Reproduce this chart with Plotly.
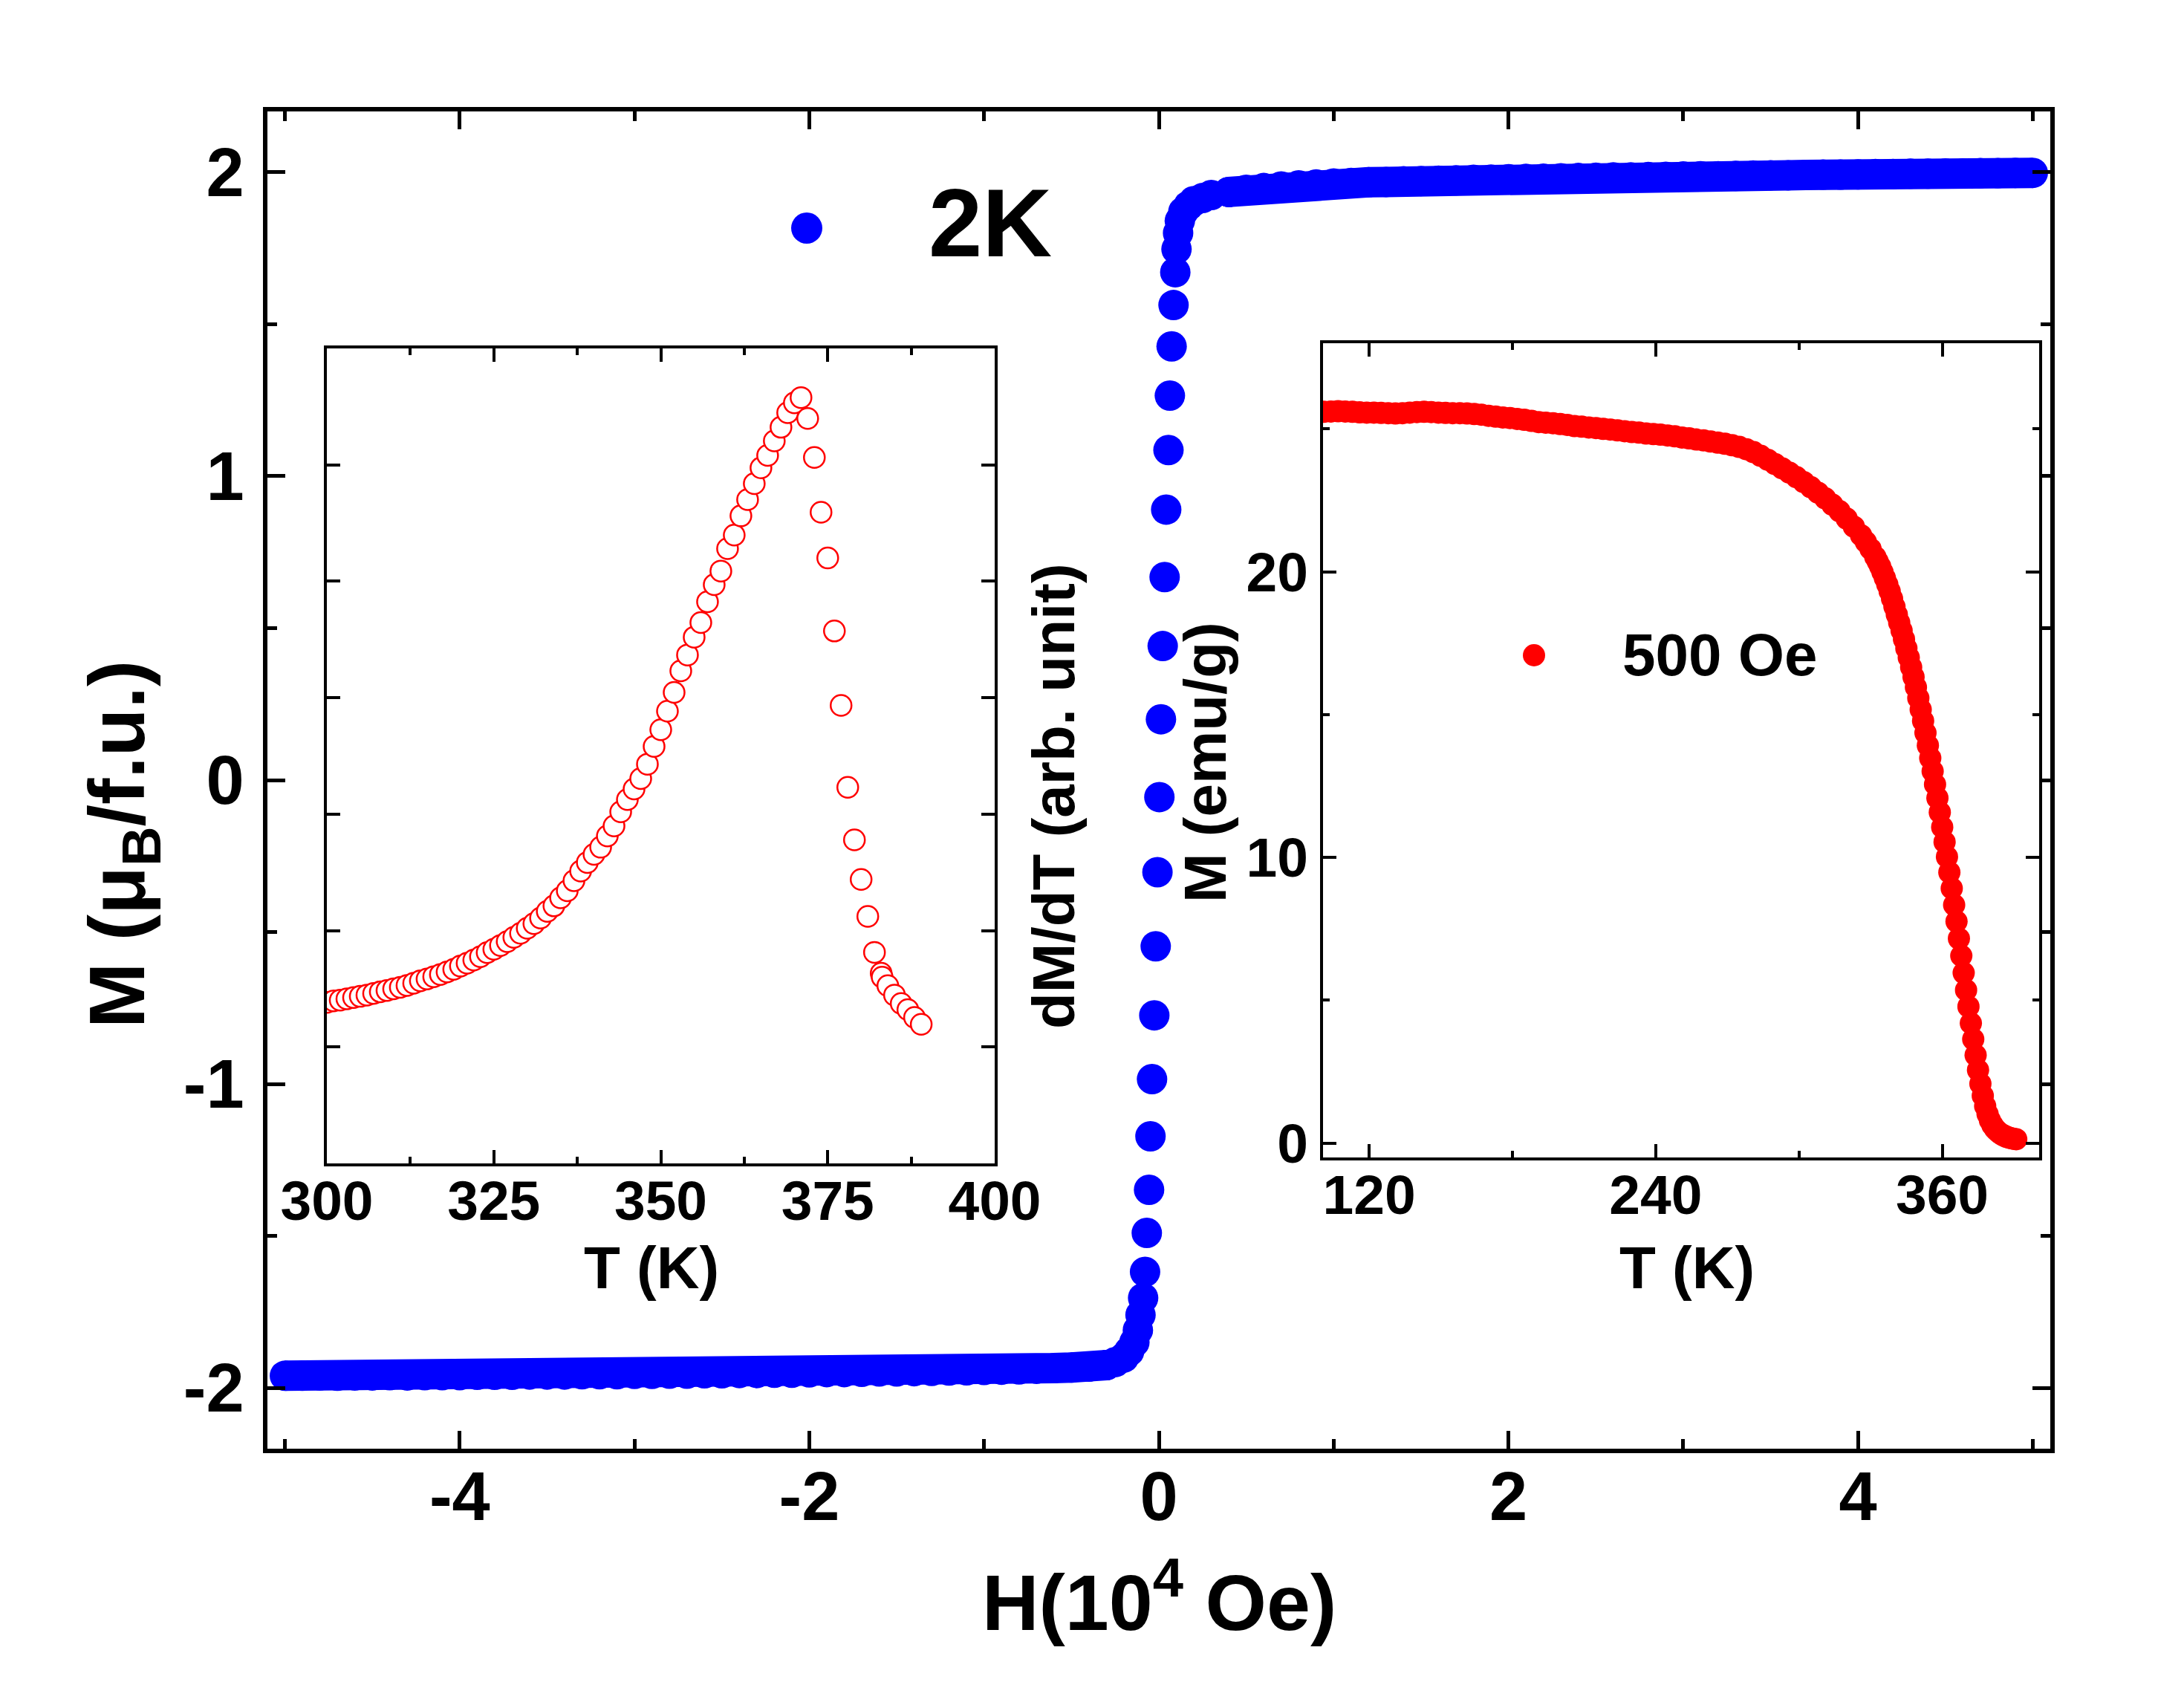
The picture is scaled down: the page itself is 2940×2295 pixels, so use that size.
import plotly.graph_objects as go

# ---------------- data ----------------
# main panel: M-H loop at 2 K (H in 10^4 Oe, M in muB/f.u.)
H_main = [-5.0, -4.9, -4.8, -4.7, -4.6, -4.5, -4.4, -4.3, -4.2, -4.1,
          -4.0, -3.9, -3.8, -3.7, -3.6, -3.5, -3.4, -3.3, -3.2, -3.1,
          -3.0, -2.9, -2.8, -2.7, -2.6, -2.5, -2.4, -2.3, -2.2, -2.1,
          -2.0, -1.9, -1.8, -1.7, -1.6, -1.5, -1.4, -1.3, -1.2, -1.1,
          -1.0, -0.9, -0.8, -0.7, -0.6, -0.5, -0.4, -0.3, -0.25, -0.2,
          -0.17, -0.14, -0.12, -0.105, -0.090, -0.079, -0.069, -0.056, -0.048, -0.039,
          -0.026, -0.018, -0.008, 0.003, 0.012, 0.022, 0.033, 0.042, 0.055, 0.063,
          0.073, 0.084, 0.094, 0.101, 0.11, 0.12, 0.14, 0.17, 0.2, 0.25,
          0.3, 0.4, 0.5, 0.6, 0.7, 0.8, 0.9, 1.0, 1.1, 1.2,
          1.3, 1.4, 1.5, 1.6, 1.7, 1.8, 1.9, 2.0, 2.1, 2.2,
          2.3, 2.4, 2.5, 2.6, 2.7, 2.8, 2.9, 3.0, 3.1, 3.2,
          3.3, 3.4, 3.5, 3.6, 3.7, 3.8, 3.9, 4.0, 4.1, 4.2,
          4.3, 4.4, 4.5, 4.6, 4.7, 4.8, 4.9, 5.0]
M_main = [-1.960, -1.960, -1.959, -1.960, -1.959, -1.959, -1.958, -1.959, -1.958, -1.958,
          -1.958, -1.957, -1.957, -1.957, -1.956, -1.956, -1.956, -1.955, -1.955, -1.955,
          -1.954, -1.954, -1.953, -1.953, -1.952, -1.952, -1.951, -1.951, -1.950, -1.950,
          -1.949, -1.948, -1.948, -1.947, -1.946, -1.946, -1.945, -1.944, -1.943, -1.942,
          -1.941, -1.940, -1.939, -1.937, -1.935, -1.933, -1.930, -1.925, -1.915, -1.900,
          -1.880, -1.850, -1.810, -1.760, -1.704, -1.618, -1.490, -1.348, -1.172, -0.984,
          -0.774, -0.547, -0.303, -0.056, 0.200, 0.441, 0.668, 0.890, 1.086, 1.265,
          1.427, 1.563, 1.671, 1.747, 1.800, 1.840, 1.870, 1.890, 1.905, 1.915,
          1.925, 1.935, 1.942, 1.948, 1.953, 1.957, 1.960, 1.963, 1.965, 1.967,
          1.968, 1.970, 1.971, 1.972, 1.973, 1.975, 1.976, 1.977, 1.978, 1.979,
          1.980, 1.981, 1.982, 1.983, 1.983, 1.984, 1.985, 1.986, 1.987, 1.987,
          1.988, 1.989, 1.990, 1.990, 1.991, 1.992, 1.992, 1.993, 1.994, 1.994,
          1.995, 1.995, 1.996, 1.996, 1.997, 1.997, 1.998, 1.998]

# inset 1: dM/dT vs T (arb. unit)
T_deriv = [300, 301, 302, 303, 304, 305, 306, 307, 308, 309,
           310, 311, 312, 313, 314, 315, 316, 317, 318, 319,
           320, 321, 322, 323, 324, 325, 326, 327, 328, 329,
           330, 331, 332, 333, 334, 335, 336, 337, 338, 339,
           340, 341, 342, 343, 344, 345, 346, 347, 348, 349,
           350, 351, 352, 353, 354, 355, 356, 357, 358, 359,
           360, 361, 362, 363, 364, 365, 366, 367, 368, 369,
           370, 371, 372, 373, 374, 375, 376, 377, 378, 379,
           380, 381, 382, 383, 383.15, 384, 385, 386, 387, 388, 389]
dMdT = [1.383, 1.396, 1.402, 1.413, 1.424, 1.435, 1.446, 1.460, 1.474, 1.485,
        1.499, 1.513, 1.529, 1.548, 1.568, 1.584, 1.604, 1.623, 1.645, 1.667,
        1.695, 1.720, 1.747, 1.775, 1.811, 1.839, 1.872, 1.905, 1.941, 1.977,
        2.019, 2.060, 2.107, 2.165, 2.212, 2.281, 2.342, 2.428, 2.511, 2.585,
        2.655, 2.716, 2.813, 2.898, 3.020, 3.125, 3.216, 3.305, 3.429, 3.581,
        3.725, 3.885, 4.046, 4.231, 4.367, 4.520, 4.645, 4.824, 4.971, 5.088,
        5.280, 5.397, 5.562, 5.701, 5.839, 5.974, 6.081, 6.206, 6.323, 6.448,
        6.533, 6.578, 6.399, 6.063, 5.593, 5.200, 4.573, 3.934, 3.231, 2.779,
        2.439, 2.122, 1.813, 1.634, 1.600, 1.527, 1.446, 1.374, 1.321, 1.254, 1.195]

# inset 2: M vs T at 500 Oe (emu/g)
T_mt = [101, 104, 107, 110, 113, 116, 119, 122, 125, 128,
        131, 134, 137, 140, 143, 146, 149, 152, 155, 158,
        161, 164, 167, 170, 173, 176, 179, 182, 185, 188,
        191, 194, 197, 200, 203, 206, 209, 212, 215, 218,
        221, 224, 227, 230, 233, 236, 239, 242, 245, 248,
        251, 254, 257, 260, 263, 266, 269, 272, 275, 278,
        281, 284, 287, 290, 293, 296, 299, 302, 305, 308,
        311, 314, 317, 320, 323, 326, 328, 330, 332, 333, 334,
        335, 336, 337, 338, 339, 340, 341, 342, 343, 344,
        345, 346, 347, 348, 349, 350, 351, 352, 353, 354,
        355, 356, 357, 358, 359, 360, 361, 362, 363, 364,
        365, 366, 367, 368, 369, 370, 371, 372, 373, 374,
        375, 376, 377, 378, 379, 380, 381, 382, 383, 384,
        385, 386, 387, 388, 389, 390, 391]
M_mt = [25.60, 25.61, 25.62, 25.61, 25.60, 25.58, 25.57, 25.57, 25.56, 25.55,
        25.54, 25.55, 25.57, 25.59, 25.60, 25.59, 25.57, 25.56, 25.55, 25.55,
        25.54, 25.52, 25.50, 25.46, 25.43, 25.40, 25.38, 25.35, 25.32, 25.28,
        25.24, 25.22, 25.20, 25.17, 25.14, 25.10, 25.08, 25.05, 25.03, 25.00,
        24.98, 24.95, 24.92, 24.89, 24.87, 24.84, 24.82, 24.80, 24.77, 24.74,
        24.70, 24.67, 24.63, 24.60, 24.56, 24.52, 24.48, 24.43, 24.37, 24.29,
        24.19, 24.06, 23.92, 23.77, 23.62, 23.47, 23.31, 23.14, 22.96, 22.77,
        22.57, 22.35, 22.12, 21.86, 21.58, 21.28, 21.05, 20.80, 20.52, 20.36, 20.19,
        19.99, 19.78, 19.56, 19.32, 19.06, 18.78, 18.50, 18.22, 17.94, 17.64,
        17.32, 17.00, 16.66, 16.32, 15.96, 15.58, 15.18, 14.78, 14.36, 13.92,
        13.48, 13.02, 12.56, 12.08, 11.58, 11.06, 10.54, 10.02, 9.48, 8.92,
        8.34, 7.76, 7.16, 6.56, 5.96, 5.36, 4.78, 4.20, 3.64, 3.08,
        2.56, 2.08, 1.66, 1.30, 1.02, 0.80, 0.64, 0.52, 0.43, 0.36,
        0.30, 0.26, 0.22, 0.19, 0.17, 0.15, 0.14]

# tick labels
main_x_ticks = [-4, -2, 0, 2, 4]
main_x_labels = ["-4", "-2", "0", "2", "4"]
main_y_ticks = [-2, -1, 0, 1, 2]
main_y_labels = ["-2", "-1", "0", "1", "2"]
in1_x_ticks = [300, 325, 350, 375, 400]
in1_x_labels = ["300", "325", "350", "375", "400"]
in2_x_ticks = [120, 240, 360]
in2_x_labels = ["120", "240", "360"]
in2_y_ticks = [0, 10, 20]
in2_y_labels = ["0", "10", "20"]

# ---------------- figure ----------------
W, H = 2940, 2295
ML, MR, MT, MB = 360, 180, 150, 345
PW, PH = W - ML - MR, H - MT - MB

def px(xp):
    return (xp - ML) / PW

def py(yp):
    return (H - MB - yp) / PH

FONT = "Liberation Sans, Arial, sans-serif"
BLUE = "#0000ff"
RED = "#ff0000"

fig = go.Figure()

# saturated branches of the loop: dense measured points that merge into a band
n_low = 48    # points with H <= -0.25
n_high = 81   # index of first point with H >= 0.3
fig.add_trace(go.Scatter(x=H_main[:n_low], y=M_main[:n_low], mode="lines+markers",
                         line=dict(width=41, color=BLUE),
                         marker=dict(size=41, color=BLUE, line=dict(width=0)),
                         xaxis="x", yaxis="y", showlegend=False))
fig.add_trace(go.Scatter(x=H_main[n_low - 1:n_high + 1], y=M_main[n_low - 1:n_high + 1],
                         mode="markers",
                         marker=dict(size=41, color=BLUE, line=dict(width=0)),
                         xaxis="x", yaxis="y", showlegend=False))
fig.add_trace(go.Scatter(x=H_main[n_high:], y=M_main[n_high:], mode="lines+markers",
                         line=dict(width=41, color=BLUE),
                         marker=dict(size=41, color=BLUE, line=dict(width=0)),
                         xaxis="x", yaxis="y", showlegend=False))

fig.add_trace(go.Scatter(x=T_deriv, y=dMdT, mode="markers",
                         marker=dict(size=28, color="white", symbol="circle",
                                     line=dict(width=2.5, color=RED)),
                         xaxis="x2", yaxis="y2", showlegend=False))

fig.add_trace(go.Scatter(x=T_mt, y=M_mt, mode="markers",
                         marker=dict(size=30, color=RED, line=dict(width=0)),
                         xaxis="x3", yaxis="y3", showlegend=False))

main_tick = dict(size=92, family=FONT, color="black", weight="bold")
inset_tick = dict(size=75, family=FONT, color="black", weight="bold")

common_main = dict(showline=True, linewidth=6, linecolor="black", mirror="ticks",
                   ticks="inside", ticklen=24, tickwidth=5, tickcolor="black",
                   showgrid=False, zeroline=False, tickfont=main_tick,
                   tickmode="array")

fig.update_layout(
    width=W, height=H, autosize=False,
    margin=dict(l=ML, r=MR, t=MT, b=MB, pad=0),
    paper_bgcolor="white", plot_bgcolor="white",
    font=dict(family=FONT, color="black"),
    xaxis=dict(domain=[0, 1], anchor="y", range=[-5.1, 5.1],
               tickvals=main_x_ticks, ticktext=main_x_labels,
               minor=dict(ticks="inside", ticklen=13, tickwidth=5, tickcolor="black",
                          tickvals=[-5, -3, -1, 1, 3, 5]),
               ticklabelstandoff=-20, **common_main),
    yaxis=dict(domain=[0, 1], anchor="x", range=[-2.2, 2.2],
               tickvals=main_y_ticks, ticktext=main_y_labels,
               minor=dict(ticks="inside", ticklen=13, tickwidth=5, tickcolor="black",
                          tickvals=[-1.5, -0.5, 0.5, 1.5]),
               ticklabelstandoff=7, **common_main),
)

common_in = dict(showline=True, linewidth=4, linecolor="black", mirror="ticks",
                 ticks="inside", ticklen=18, tickwidth=4, tickcolor="black",
                 showgrid=False, zeroline=False, tickfont=inset_tick,
                 tickmode="array")

fig.update_layout(
    xaxis2=dict(domain=[px(440), px(1339)], anchor="y2", range=[300, 400],
                tickvals=in1_x_ticks, ticktext=in1_x_labels,
                minor=dict(ticks="inside", ticklen=9, tickwidth=4, tickcolor="black",
                           tickvals=[312.5, 337.5, 362.5, 387.5]),
                ticklabelstandoff=-18, **common_in),
    yaxis2=dict(domain=[py(1566), py(469)], anchor="x2", range=[0, 7],
                tickvals=[1, 2, 3, 4, 5, 6], showticklabels=False, **common_in),
    xaxis3=dict(domain=[px(1781), px(2745)], anchor="y3", range=[100.7, 400.6],
                tickvals=in2_x_ticks, ticktext=in2_x_labels,
                minor=dict(ticks="inside", ticklen=9, tickwidth=4, tickcolor="black",
                           tickvals=[180, 300]),
                ticklabelstandoff=-18, **common_in),
    yaxis3=dict(domain=[py(1558), py(462)], anchor="x3", range=[-0.5, 28],
                tickvals=in2_y_ticks, ticktext=in2_y_labels,
                minor=dict(ticks="inside", ticklen=9, tickwidth=4, tickcolor="black",
                           tickvals=[5, 15, 25]),
                ticklabelstandoff=1, **common_in),
)

def ann(text, x, y, size, angle=0, xanchor="center", yanchor="middle"):
    fig.add_annotation(text=text, x=x, y=y, xref="paper", yref="paper",
                       showarrow=False, textangle=angle, xanchor=xanchor, yanchor=yanchor,
                       font=dict(size=size, family=FONT, color="black", weight="bold"))

ann("H(10<sup>4</sup> Oe)", px(1560), py(2149), 106)
ann("M (μ<sub>B</sub>/f.u.)", px(165), py(1137), 106, angle=-90)
ann("T (K)", px(877), py(1706), 80)
ann("T (K)", px(2271), py(1706), 80)
ann("dM/dT (arb. unit)", px(1418), py(1072), 80, angle=-90)
ann("M (emu/g)", px(1622), py(1026), 80, angle=-90)
ann("2K", px(1248), py(300), 130, xanchor="left")
ann("500 Oe", px(2182), py(882), 80, xanchor="left")

# legend symbols
for (cx, cy, d, col) in [(1086, 307, 42, BLUE), (2065, 882, 30, RED)]:
    fig.add_shape(type="circle", xref="paper", yref="paper",
                  xsizemode="pixel", ysizemode="pixel",
                  xanchor=px(cx), yanchor=py(cy),
                  x0=-d / 2, x1=d / 2, y0=-d / 2, y1=d / 2,
                  fillcolor=col, line=dict(width=0), layer="above")

fig.write_html("out.html")
